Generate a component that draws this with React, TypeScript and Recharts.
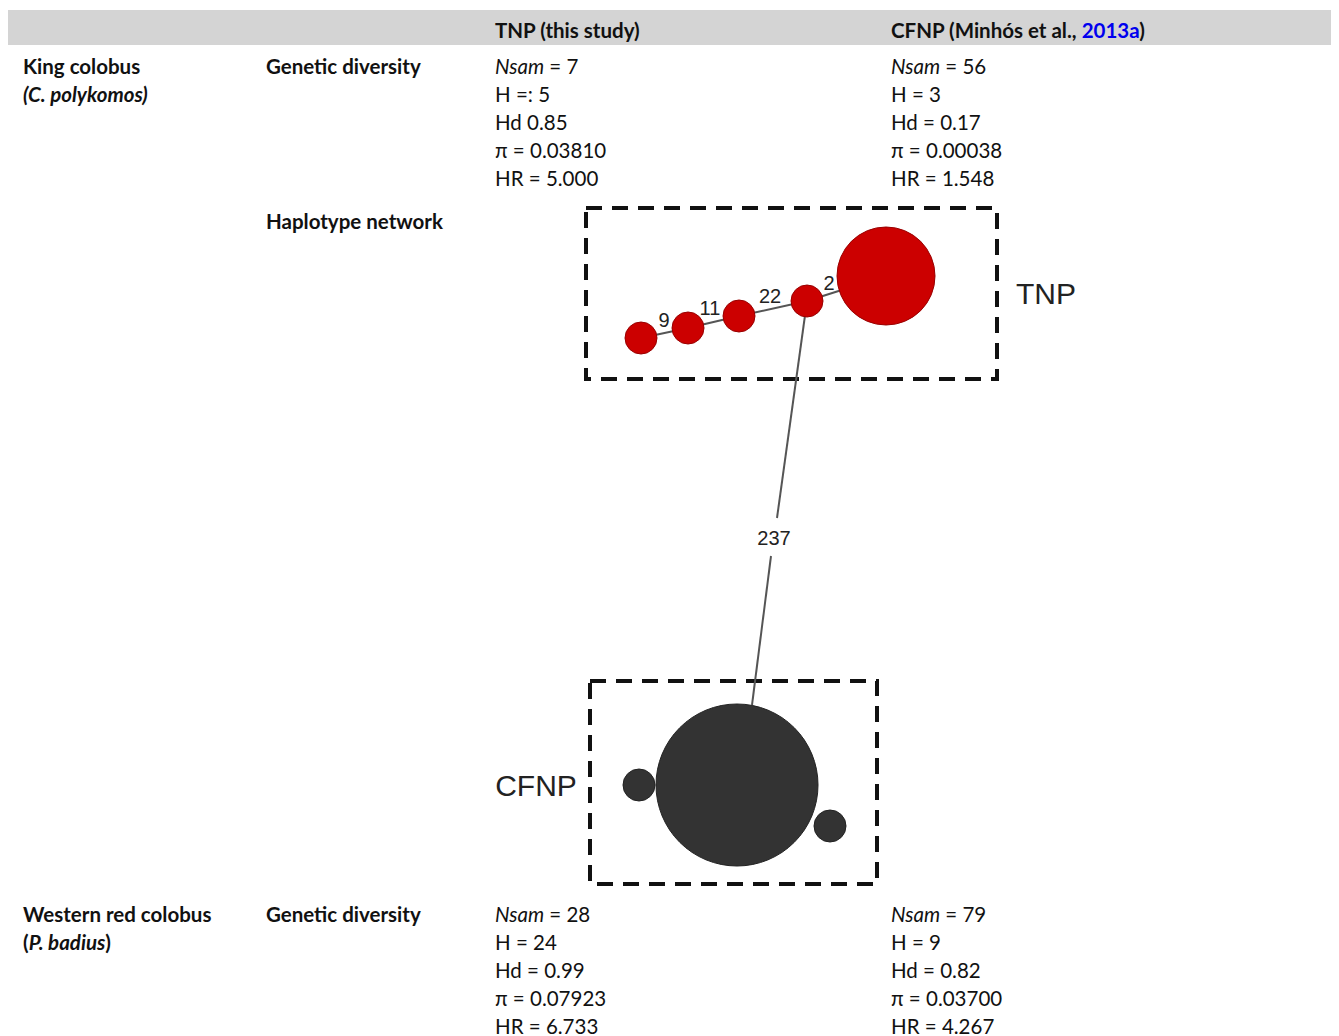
import { ReferenceArea, ReferenceLine, Scatter, ScatterChart, XAxis, YAxis } from 'recharts';

// table text
const headers = ['', '', 'TNP (this study)', 'CFNP (Minhós et al., '];
const kingTnp = ['= 7', 'H =: 5', 'Hd 0.85', 'π = 0.03810', 'HR = 5.000'];
const kingCfnp = ['= 56', 'H = 3', 'Hd = 0.17', 'π = 0.00038', 'HR = 1.548'];
const redTnp = ['= 28', 'H = 24', 'Hd = 0.99', 'π = 0.07923', 'HR = 6.733'];
const redCfnp = ['= 79', 'H = 9', 'Hd = 0.82', 'π = 0.03700', 'HR = 4.267'];

// haplotype network (x, y in figure units, r = node radius)
const tnpNodes = [
  { x: 641, y: 338, r: 16 },
  { x: 688, y: 328, r: 16 },
  { x: 739, y: 316, r: 16 },
  { x: 807, y: 301, r: 16 },
  { x: 886, y: 276, r: 49 },
];
const cfnpNodes = [
  { x: 737, y: 785, r: 81 },
  { x: 639, y: 785, r: 16 },
  { x: 830, y: 826, r: 16 },
];
const edges = [
  [641, 338, 688, 328],
  [688, 328, 739, 316],
  [739, 316, 807, 301],
  [807, 301, 886, 276],
  [807, 301, 777, 518],
  [771, 556, 752, 705],
];
const mutationLabels = [
  { x: 664, y: 320, text: '9', size: 20 },
  { x: 710, y: 308, text: '11', size: 20 },
  { x: 770, y: 296, text: '22', size: 20 },
  { x: 829, y: 283, text: '2', size: 20 },
  { x: 774, y: 538, text: '237', size: 20 },
  { x: 1046, y: 293, text: 'TNP', size: 30 },
  { x: 536, y: 785, text: 'CFNP', size: 30 },
];
const boxes = [
  { x1: 586, x2: 997, y1: 208, y2: 379 },
  { x1: 590, x2: 877, y1: 681, y2: 884 },
];

const font = 'Lato, "Open Sans", sans-serif';

const Lines = ({ top, left, lines, bold = false }: { top: number; left: number; lines: string[]; bold?: boolean }) => (
  <div style={{ position: 'absolute', top, left, lineHeight: '28px', fontWeight: bold ? 700 : 400 }}>
    {lines.map((l, i) =>
      i === 0 ? (
        <div key={i}><i>Nsam</i> {l}</div>
      ) : (
        <div key={i}>{l}</div>
      )
    )}
  </div>
);

const Node = (color: string, stroke: string) => (props: any) => (
  <circle cx={props.cx} cy={props.cy} r={props.payload.r} fill={color} stroke={stroke} strokeWidth={1} />
);

const Label = (props: any) => (
  <text x={props.cx} y={props.cy} textAnchor="middle" dominantBaseline="central" fontFamily="Arial, 'Liberation Sans', sans-serif" fontSize={props.payload.size} fill="#222">
    {props.payload.text}
  </text>
);

export default function App() {
  return (
    <div style={{ position: 'relative', width: 1331, height: 1028, fontFamily: font, fontSize: 20.5, color: '#111' }}>
      <div style={{ position: 'absolute', top: 2, left: 0, width: 1340, height: 35, background: '#d4d4d4' }} />
      <div style={{ position: 'absolute', top: 8, left: 487, lineHeight: '28px', fontWeight: 700 }}>{headers[2]}</div>
      <div style={{ position: 'absolute', top: 8, left: 883, lineHeight: '28px', fontWeight: 700 }}>
        {headers[3]}<span style={{ color: '#0000ee' }}>2013a</span>)
      </div>

      <div style={{ position: 'absolute', top: 44, left: 15, lineHeight: '28px', fontWeight: 700 }}>
        <div>King colobus</div>
        <div><i>(C. polykomos)</i></div>
      </div>
      <div style={{ position: 'absolute', top: 44, left: 258, lineHeight: '28px', fontWeight: 700 }}>Genetic diversity</div>
      <Lines top={44} left={487} lines={kingTnp} />
      <Lines top={44} left={883} lines={kingCfnp} />
      <div style={{ position: 'absolute', top: 199, left: 258, lineHeight: '28px', fontWeight: 700 }}>Haplotype network</div>

      <div style={{ position: 'absolute', top: 187, left: 472 }}>
        <ScatterChart width={640} height={710} margin={{ top: 0, right: 0, bottom: 0, left: 0 }}>
          <XAxis type="number" dataKey="x" domain={[480, 1120]} hide allowDataOverflow />
          <YAxis type="number" dataKey="y" domain={[195, 905]} reversed hide allowDataOverflow />
          {boxes.map((b, i) => (
            <ReferenceArea key={i} x1={b.x1} x2={b.x2} y1={b.y1} y2={b.y2} fill="none" stroke="#111" strokeWidth={4} strokeDasharray="16 10" ifOverflow="visible" />
          ))}
          {edges.map((e, i) => (
            <ReferenceLine key={i} segment={[{ x: e[0], y: e[1] }, { x: e[2], y: e[3] }]} stroke="#555" strokeWidth={2} ifOverflow="visible" />
          ))}
          <Scatter data={tnpNodes} shape={Node('#cc0000', '#990000')} isAnimationActive={false} />
          <Scatter data={cfnpNodes} shape={Node('#333333', '#222222')} isAnimationActive={false} />
          <Scatter data={mutationLabels} shape={Label} isAnimationActive={false} />
        </ScatterChart>
      </div>

      <div style={{ position: 'absolute', top: 892, left: 15, lineHeight: '28px', fontWeight: 700 }}>
        <div>Western red colobus</div>
        <div>(<i>P. badius</i>)</div>
      </div>
      <div style={{ position: 'absolute', top: 892, left: 258, lineHeight: '28px', fontWeight: 700 }}>Genetic diversity</div>
      <Lines top={892} left={487} lines={redTnp} />
      <Lines top={892} left={883} lines={redCfnp} />
    </div>
  );
}
